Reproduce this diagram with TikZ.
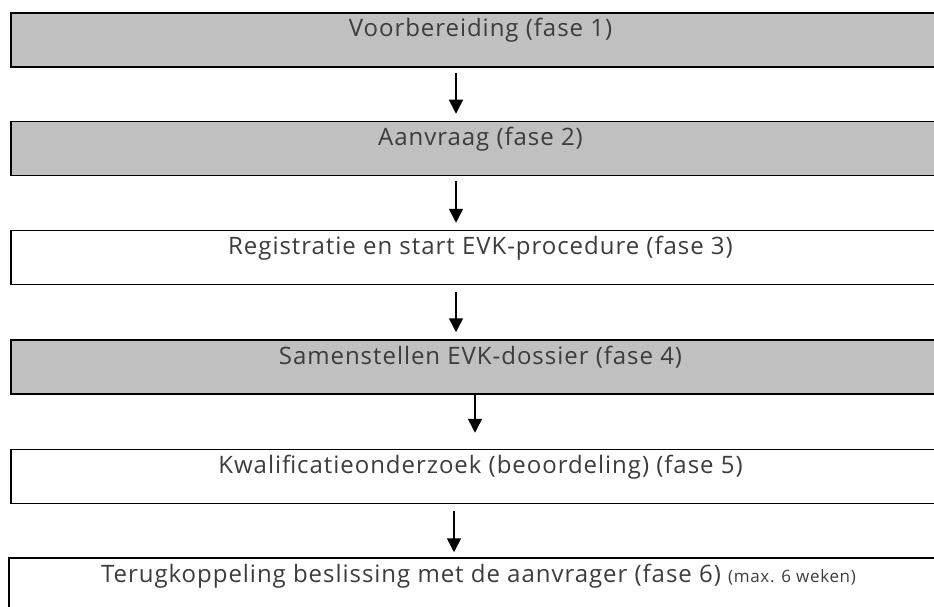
\documentclass[tikz,border=0pt]{standalone}
\usepackage{fontspec}
\setmainfont[LetterSpace=4]{Open Sans}
\usetikzlibrary{arrows.meta,calc}

\begin{document}
\begin{tikzpicture}[
  x=1pt, y=-1pt,
  fase/.style={draw=black, line width=1.5pt, rectangle, minimum width=939pt,
    minimum height=54pt, inner sep=0pt, text=fasetext,
    text height=18pt, text depth=24pt,
    font=\fontsize{24}{28}\selectfont},
  grijs/.style={fill=fasegrey},
  flow/.style={line width=1.5pt, -{Triangle[length=14pt,width=14pt]}},
]
\definecolor{fasegrey}{RGB}{192,192,192}
\definecolor{fasetext}{RGB}{60,60,60}

\useasboundingbox (0,0) rectangle (934,607);

\node [fase, grijs] (b1) at (480.5,40) {Voorbereiding (fase 1)};
\node [fase, grijs] (b2) at (480.5,148.5) {Aanvraag (fase 2)};
\node [fase] (b3) at (480.5,257.5) {Registratie en start EVK-procedure (fase 3)};
\node [fase, grijs] (b4) at (480.5,367) {Samenstellen EVK-dossier (fase 4)};
\node [fase] (b5) at (480.5,476.5) {Kwalificatieonderzoek (beoordeling) (fase 5)};
\node [fase] (b6) at (478.5,585) {Terugkoppeling beslissing met de aanvrager (fase 6) {\fontsize{17}{20}\selectfont(max. 6 weken)}};

\draw [flow] ($(b1.south)+(-24.5,5)$) -- ($(b2.north)+(-24.5,-7)$);
\draw [flow] ($(b2.south)+(-24.5,5)$) -- ($(b3.north)+(-24.5,-7)$);
\draw [flow] ($(b3.south)+(-24.5,7)$) -- ($(b4.north)+(-24.5,-7)$);
\draw [flow] ($(b4.south)+(-5.5,-2)$) -- ($(b5.north)+(-5.5,-16)$);
\draw [flow] ($(b5.south)+(-26.5,7)$) -- ($(b6.north)+(-24.5,-5)$);

\end{tikzpicture}
\end{document}
